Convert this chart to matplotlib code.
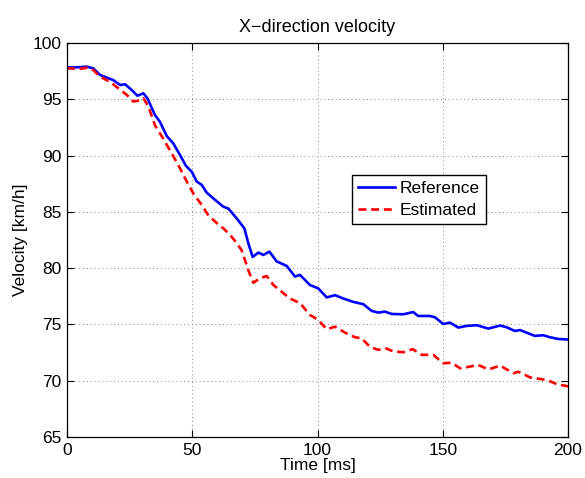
import matplotlib
matplotlib.use("Agg")
import matplotlib.pyplot as plt

plt.rcParams['font.family'] = ['Liberation Sans', 'DejaVu Sans']

ref_t = [0, 5, 7.9, 10.5, 13.2, 18.5, 21.2, 23.2, 25.8, 28.1, 30.5, 32.1, 35.1, 37.1, 39.8,
         42.4, 45.1, 47.5, 49.8, 51.8, 53.8, 55.8, 58.4, 62.4, 64.4, 67.7, 70.8, 72.4, 74.1,
         76.4, 78.4, 80.8, 83.7, 87.7, 91.0, 93.0, 97.0, 100.3, 103.7, 107.0, 110.3, 114.3,
         118.3, 121.6, 124.3, 126.9, 129.6, 134.3, 138.2, 140.2, 144.9, 146.9, 150.2, 152.9,
         156.2, 159.6, 163.6, 168.2, 172.9, 175.5, 178.8, 180.8, 183.5, 186.8, 190.1, 192.8,
         196.1, 200]
ref_v = [97.84, 97.85, 97.9, 97.75, 97.16, 96.7, 96.27, 96.33, 95.83, 95.32, 95.53, 95.09,
         93.6, 93.0, 91.74, 91.09, 90.05, 89.08, 88.57, 87.69, 87.39, 86.7, 86.2, 85.46, 85.3,
         84.43, 83.54, 82.2, 81.0, 81.38, 81.17, 81.47, 80.6, 80.2, 79.25, 79.4, 78.5, 78.2,
         77.4, 77.6, 77.3, 77.0, 76.8, 76.2, 76.05, 76.14, 75.93, 75.9, 76.1, 75.75, 75.75,
         75.63, 75.04, 75.16, 74.72, 74.87, 74.93, 74.63, 74.9, 74.75, 74.42, 74.5, 74.27,
         73.98, 74.04, 73.86, 73.71, 73.66]

est_t = [0, 5.2, 7.9, 10.5, 13.2, 17.2, 20.5, 23.8, 26.5, 29.1, 30.5, 32.5, 35.1, 38.4,
         41.8, 45.1, 47.8, 50.4, 53.8, 56.4, 59.8, 62.4, 65.1, 67.5, 69.7, 72.4, 74.4, 77.0,
         79.7, 82.4, 85.7, 89.0, 93.0, 97.0, 100.3, 103.7, 107.0, 111.0, 115.0, 117.6, 121.0,
         124.3, 127.0, 130.3, 134.3, 138.0, 141.6, 146.2, 150.2, 153.6, 156.9, 159.6, 164.2,
         168.2, 172.9, 178.2, 180.2, 184.8, 189.5, 191.5, 195.5, 200]
est_v = [97.75, 97.7, 97.8, 97.6, 97.0, 96.56, 95.97, 95.4, 94.8, 94.9, 95.09, 94.35, 92.7,
         91.5, 90.2, 88.87, 87.7, 86.65, 85.6, 84.7, 84.0, 83.54, 82.95, 82.3, 81.6, 79.8,
         78.7, 79.1, 79.3, 78.5, 77.9, 77.3, 76.9, 75.84, 75.4, 74.57, 74.8, 74.27, 73.86,
         73.77, 73.0, 72.74, 72.9, 72.6, 72.53, 72.8, 72.3, 72.3, 71.55, 71.6, 71.1, 71.2,
         71.4, 71.0, 71.34, 70.67, 70.8, 70.3, 70.13, 70.07, 69.7, 69.5]

x_ticks = [0, 50, 100, 150, 200]
y_ticks = [65, 70, 75, 80, 85, 90, 95, 100]

fs = 12.5

fig = plt.figure(figsize=(5.85, 4.78), dpi=100)
ax = fig.add_axes([67/585, 1-437/478, 501/585, 394/478])

ax.plot(ref_t, ref_v, color='#0000ff', lw=1.9, label='Reference')
ax.plot(est_t, est_v, color='#ff0000', lw=1.9, ls=(0, (3.0, 1.8)), label='Estimated')

ax.set_xlim(0, 200)
ax.set_ylim(65, 100)
ax.set_xticks(x_ticks)
ax.set_yticks(y_ticks)
ax.tick_params(direction='in', top=True, right=True, labelsize=fs, length=5, width=0.8, pad=4)
ax.grid(True, ls=(0, (1, 3)), color='#888888', lw=0.7)
for s in ax.spines.values():
    s.set_linewidth(0.9)

ax.set_title('X\u2212direction velocity', fontsize=13, pad=8)
ax.set_xlabel('Time [ms]', fontsize=fs, labelpad=0)
ax.set_ylabel('Velocity [km/h]', fontsize=fs, labelpad=3)

leg = ax.legend(loc='upper left', bbox_to_anchor=((352-67)/501, (437-175)/394), fontsize=fs,
                frameon=True, fancybox=False, edgecolor='black', framealpha=1,
                borderpad=0.35, handlelength=2.1, handletextpad=0.3, labelspacing=0.4,
                borderaxespad=0)
leg.get_frame().set_linewidth(1.0)

fig.savefig('out.png', dpi=100)
